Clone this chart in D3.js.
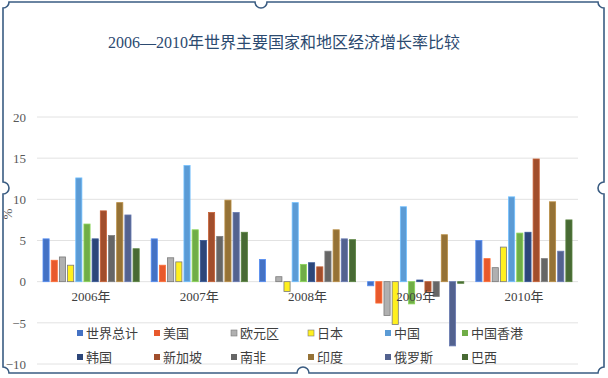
<!DOCTYPE html>
<html>
<head>
<meta charset="utf-8">
<script src="https://cdn.jsdelivr.net/npm/d3@7"></script>
<style>
  body { margin: 0; background: #fff; }
</style>
</head>
<body>
<div id="chart"></div>
<script>
var width = 608;
var height = 378;

// data
var years = ["2006年", "2007年", "2008年", "2009年", "2010年"];
var series = ["世界总计", "美国", "欧元区", "日本", "中国", "中国香港",
              "韩国", "新加坡", "南非", "印度", "俄罗斯", "巴西"];
var v2006 = [5.2, 2.6, 3.0, 2.0, 12.6, 7.0, 5.2, 8.6, 5.6, 9.6, 8.1, 4.0];
var v2007 = [5.2, 2.0, 2.9, 2.4, 14.1, 6.3, 5.0, 8.4, 5.5, 9.9, 8.4, 6.0];
var v2008 = [2.7, 0.0, 0.6, -1.2, 9.6, 2.1, 2.3, 1.8, 3.7, 6.3, 5.2, 5.1];
var v2009 = [-0.5, -2.6, -4.1, -5.2, 9.1, -2.7, 0.2, -1.2, -1.8, 5.7, -7.8, -0.2];
var v2010 = [5.0, 2.8, 1.7, 4.2, 10.3, 5.9, 6.0, 14.9, 2.8, 9.7, 3.7, 7.5];
var yTicks = [-10, -5, 0, 5, 10, 15, 20];

var values = [v2006, v2007, v2008, v2009, v2010];

var colors = ["#4472C4", "#E8592C", "#B0B0B0", "#FFF01F", "#5B9BD5", "#70AD47",
              "#2C4679", "#A14E2C", "#666666", "#957236", "#53628F", "#486A34"];

var svg = d3.select("#chart")
  .append("svg")
  .attr("width", width)
  .attr("height", height)

// frame with notches
var x0f = 3, y0f = 2, x1f = 604, y1f = 373, r = 6;
var topMid = 261, botMid = 303, sideMid = 188;
var framePath = "M" + (x0f + r) + "," + y0f +
  " L" + (topMid - r) + "," + y0f +
  " A" + r + "," + r + " 0 0 0 " + (topMid + r) + "," + y0f +
  " L" + (x1f - r) + "," + y0f +
  " A" + r + "," + r + " 0 0 0 " + x1f + "," + (y0f + r) +
  " L" + x1f + "," + (sideMid - r) +
  " A" + r + "," + r + " 0 0 0 " + x1f + "," + (sideMid + r) +
  " L" + x1f + "," + (y1f - r) +
  " A" + r + "," + r + " 0 0 0 " + (x1f - r) + "," + y1f +
  " L" + (botMid + r) + "," + y1f +
  " A" + r + "," + r + " 0 0 0 " + (botMid - r) + "," + y1f +
  " L" + (x0f + r) + "," + y1f +
  " A" + r + "," + r + " 0 0 0 " + x0f + "," + (y1f - r) +
  " L" + x0f + "," + (sideMid + r) +
  " A" + r + "," + r + " 0 0 0 " + x0f + "," + (sideMid - r) +
  " L" + x0f + "," + (y0f + r) +
  " A" + r + "," + r + " 0 0 0 " + (x0f + r) + "," + y0f + " Z";

svg.append("path")
  .attr("d", framePath)
  .attr("fill", "none")
  .attr("stroke", "#3A5C82")
  .attr("stroke-width", 1.6)

// title
svg.append("text")
  .attr("x", 284)
  .attr("y", 48)
  .attr("text-anchor", "middle")
  .style("font-family", "'Liberation Serif', 'Noto Sans CJK SC', serif")
  .style("font-size", "16px")
  .style("fill", "#2B4A70")
  .text("2006—2010年世界主要国家和地区经济增长率比较")

// scales
var x = d3.scaleBand()
  .domain(years)
  .range([37, 578])

var xInner = d3.scaleBand()
  .domain(series)
  .range([6, x.bandwidth() - 6])
  .paddingInner(0.25)

var y = d3.scaleLinear()
  .domain([-10, 20])
  .range([364, 117])

// gridlines
svg.append("g")
  .selectAll("line")
  .data(yTicks)
  .join("line")
    .attr("x1", 37)
    .attr("x2", 578)
    .attr("y1", d => y(d))
    .attr("y2", d => y(d))
    .attr("stroke", "#E2E2E2")
    .attr("stroke-width", 1)

// y axis labels
var yAxis = d3.axisLeft(y).tickValues(yTicks).tickSize(0).tickPadding(0)
  .tickFormat(d => d < 0 ? "−" + Math.abs(d) : d);
var gy = svg.append("g")
  .attr("transform", "translate(26,0)")
  .call(yAxis)
gy.select(".domain").remove()
gy.selectAll("text")
  .style("font-family", "'Liberation Serif', serif")
  .style("font-size", "13px")
  .style("fill", "#595959")

svg.append("text")
  .attr("transform", "translate(12,214) rotate(-90)")
  .attr("text-anchor", "middle")
  .style("font-family", "'Liberation Serif', serif")
  .style("font-size", "13px")
  .style("fill", "#595959")
  .text("%")

// bars
var groups = svg.append("g")
  .selectAll("g")
  .data(years)
  .join("g")
    .attr("transform", d => "translate(" + x(d) + ",0)")

groups.selectAll("rect")
  .data((d, i) => values[i].map((v, j) => ({ key: series[j], value: v, idx: j })))
  .join("rect")
    .attr("x", d => xInner(d.key))
    .attr("width", xInner.bandwidth())
    .attr("y", d => y(Math.max(0, d.value)))
    .attr("height", d => Math.abs(y(d.value) - y(0)))
    .attr("fill", d => colors[d.idx])
    .attr("stroke", d => (d.idx === 2 || d.idx === 3) ? "#7a7a7a" : d3.color(colors[d.idx]).brighter(0.6))
    .attr("stroke-width", 0.8)

// category labels
svg.append("g")
  .selectAll("text")
  .data(years)
  .join("text")
    .attr("x", d => x(d) + x.bandwidth() / 2)
    .attr("y", 301)
    .attr("text-anchor", "middle")
    .style("font-family", "'Liberation Serif', 'Noto Sans CJK SC', serif")
    .style("font-size", "13px")
    .style("fill", "#404040")
    .text(d => d)

// legend
var legend = svg.append("g")
  .selectAll("g")
  .data(series)
  .join("g")
    .attr("transform", (d, i) => "translate(" + (77 + (i % 6) * 77) + "," + (i < 6 ? 333 : 357) + ")")

legend.append("rect")
  .attr("x", 0)
  .attr("y", -3)
  .attr("width", 6)
  .attr("height", 6)
  .attr("fill", (d, i) => colors[i])
  .attr("stroke", (d, i) => (i === 2 || i === 3) ? "#7a7a7a" : "none")
  .attr("stroke-width", 0.6)

legend.append("text")
  .attr("x", 9)
  .attr("y", 5)
  .style("font-family", "'Noto Sans CJK SC', sans-serif")
  .style("font-size", "13px")
  .style("fill", "#3F3F3F")
  .text(d => d)
</script>
</body>
</html>
